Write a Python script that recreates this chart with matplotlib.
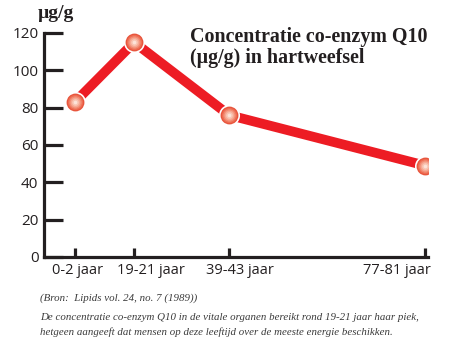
import matplotlib
matplotlib.use("Agg")
import matplotlib.pyplot as plt
import matplotlib.transforms as mtransforms

# leeftijdsgroepen en Q10-concentratie in hartweefsel (µg/g)
groepen = ["0-2 jaar", "19-21 jaar", "39-43 jaar", "77-81 jaar"]
x_pos = [0, 1, 2.6, 5.9]
q10 = [83, 115, 76, 49]
y_ticks = [0, 20, 40, 60, 80, 100, 120]

ink = "#231f20"
rood = "#ed1c24"

fig = plt.figure(figsize=(4.55, 3.4), dpi=100)
ax = fig.add_axes([44 / 455, 83 / 340, 384 / 455, 224 / 340])

# dikke rode lijn met witte rand rond de punten
ax.plot(x_pos, q10, color=rood, lw=7, solid_capstyle="butt", zorder=2)
ax.scatter(x_pos, q10, s=230, color="white", zorder=3, linewidths=0)

# bolletjes met een lichte kern (gelaagde cirkels)
lagen = [(165, "#e8553d"), (120, "#ee6c52"), (82, "#f28a72"),
         (50, "#f6a993"), (24, "#f9c6b4"), (7, "#fde3d8")]
for s, c in lagen:
    ax.scatter(x_pos, q10, s=s, color=c, zorder=4, linewidths=0)

ax.set_xlim(-0.52, 5.95)
ax.set_ylim(0, 120)

for side in ["top", "right"]:
    ax.spines[side].set_visible(False)
for side in ["left", "bottom"]:
    ax.spines[side].set_linewidth(2.3)
    ax.spines[side].set_color(ink)
    ax.spines[side].set_capstyle("projecting")

ax.set_yticks(y_ticks)
ax.tick_params(axis="y", direction="in", length=14, width=2.3, color=ink,
               labelsize=11, labelcolor=ink, pad=4)
ax.set_xticks(x_pos)
ax.set_xticklabels([])
ax.tick_params(axis="x", direction="in", length=6.5, width=2.3, color=ink)
for lbl in ax.get_yticklabels():
    lbl.set_family("Open Sans")

# x-labels iets verschoven t.o.v. de streepjes
verschuiving = [3, 17, 11, 0]
for xp, g, dx in zip(x_pos, groepen, verschuiving):
    ha = "right" if g == groepen[-1] else "center"
    off = mtransforms.offset_copy(ax.get_xaxis_transform(), fig=fig,
                                  x=dx + (6 if ha == "right" else 0), y=0, units="dots")
    ax.text(xp, -0.06, g, transform=off, ha=ha, va="center",
            fontsize=10.5, color=ink, family="Open Sans")

fig.text(38 / 455, 1 - 14 / 340, "µg/g", ha="left", va="center",
         fontsize=14, fontweight="bold", family="Liberation Serif", color=ink)

titel = ["Concentratie co-enzym Q10", "(µg/g) in hartweefsel"]
for regel, yy in zip(titel, [37, 58]):
    fig.text(190 / 455, 1 - yy / 340, regel, ha="left", va="center",
             fontsize=14.4, fontweight="bold", family="Liberation Serif", color=ink)

fig.text(40 / 455, 1 - 298 / 340, "(Bron:  Lipids vol. 24, no. 7 (1989))",
         ha="left", va="center", fontsize=7.8, style="italic",
         family="Liberation Serif", color="#3a3a3a")
toelichting = [
    "De concentratie co-enzym Q10 in de vitale organen bereikt rond 19-21 jaar haar piek,",
    "hetgeen aangeeft dat mensen op deze leeftijd over de meeste energie beschikken.",
]
for regel, yy in zip(toelichting, [318, 332]):
    fig.text(40 / 455, 1 - yy / 340, regel, ha="left", va="center", fontsize=7.8,
             style="italic", family="Liberation Serif", color="#3a3a3a")

fig.savefig("out.png", dpi=100)
